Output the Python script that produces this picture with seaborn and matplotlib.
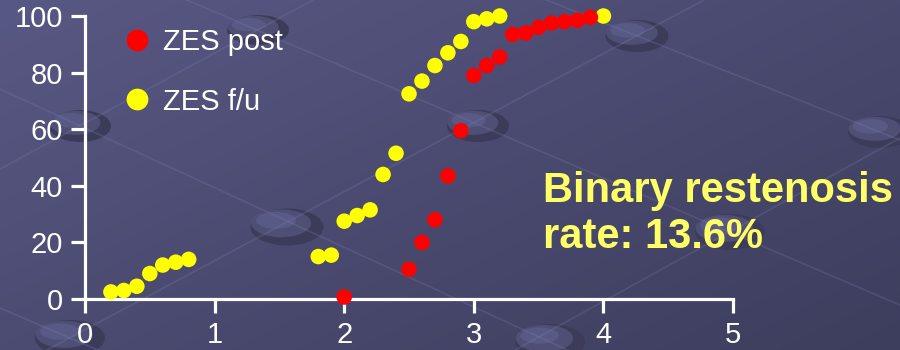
import numpy as np
import pandas as pd
import matplotlib
matplotlib.use("Agg")
import matplotlib.pyplot as plt
from matplotlib.patches import Ellipse
import seaborn as sns

# Cumulative distribution of late loss (mm) vs. percentage of lesions
post_x = [2.0, 2.5, 2.6, 2.7, 2.8, 2.9, 3.0, 3.1, 3.2, 3.3, 3.4, 3.5, 3.6, 3.7, 3.8, 3.9]
post_y = [0.7, 10.5, 20, 28, 43.5, 59.5, 79, 82.5, 85.5, 93.5, 94, 96, 97.5, 98, 98.5, 99.5]
fu_x = [0.2, 0.3, 0.4, 0.5, 0.6, 0.7, 0.8, 1.8, 1.9, 2.0, 2.1, 2.2, 2.3, 2.4,
        2.5, 2.6, 2.7, 2.8, 2.9, 3.0, 3.1, 3.2, 4.0]
fu_y = [2.5, 3, 4.5, 9, 12, 13, 14, 15, 15.5, 27.5, 29.5, 31.5, 44, 51.5,
        72.5, 77, 82.5, 87, 91, 98, 99, 100, 100]
series_names = ["ZES post", "ZES f/u"]
series_colors = ["#ff0000", "#ffff00"]
x_ticks = [0, 1, 2, 3, 4, 5]
y_ticks = [0, 20, 40, 60, 80, 100]
note_text = "Binary restenosis\nrate: 13.6%"

sns.set_theme(style="white")
plt.rcParams["font.family"] = ["Liberation Sans", "DejaVu Sans"]

W, H = 900, 350
fig = plt.figure(figsize=(W / 100, H / 100), dpi=100)

# ---- slide backdrop: gradient, faint lattice lines, shaded discs ----
bg = fig.add_axes([0, 0, 1, 1], zorder=-10)
gy, gx = np.mgrid[0:1:200j, 0:1:400j]
t = gx * 0.55 + gy * 0.45
c0 = np.array([0x58, 0x58, 0x84]) / 255
c1 = np.array([0x3d, 0x3d, 0x5d]) / 255
bg.imshow(c0 + (c1 - c0) * t[..., None], extent=[0, W, H, 0], aspect="auto")

lattice = [
    ((0, 89), (900, 503)),
    ((0, -80), (900, 305)),
    ((400, -58), (900, 140)),
    ((0, 308), (200, 394)),
    ((0, 169), (313, 0)),
    ((0, 375), (704, 0)),
    ((515, 350), (1000, 83)),
]
for (x0, y0), (x1, y1) in lattice:
    bg.plot([x0, x1], [y0, y1], color="#8080b0", alpha=0.25, lw=1.2)

discs = [(258, 30, 62, 30), (80, 126, 62, 32), (287, 227, 73, 37),
         (478, 126, 62, 32), (637, 36, 63, 32), (880, 132, 64, 32),
         (730, 232, 70, 36), (550, 342, 70, 36), (70, 338, 70, 36)]
for cx, cy, w, h in discs:
    bg.add_patch(Ellipse((cx, cy), w, h, facecolor="#3c3c5a", edgecolor="none"))
    bg.add_patch(Ellipse((cx - 0.08 * w, cy - 0.1 * h), 0.82 * w, 0.75 * h,
                         facecolor="#54547e", edgecolor="none", alpha=0.8))
    bg.add_patch(Ellipse((cx - 0.15 * w, cy - 0.18 * h), 0.55 * w, 0.45 * h,
                         facecolor="#5e5e8c", edgecolor="none", alpha=0.7))
bg.set_xlim(0, W)
bg.set_ylim(H, 0)
bg.axis("off")

# ---- main chart ----
ax = fig.add_axes([85 / W, 51 / H, 648 / W, 283 / H])
ax.patch.set_alpha(0)

df = pd.DataFrame({
    "x": fu_x + post_x,
    "y": fu_y + post_y,
    "series": [series_names[1]] * len(fu_x) + [series_names[0]] * len(post_x),
})
sns.scatterplot(data=df, x="x", y="y", hue="series", hue_order=series_names,
                palette=dict(zip(series_names, series_colors)), s=125,
                linewidth=0, ax=ax, clip_on=False, zorder=5)

ax.set_xlim(0, 5)
ax.set_ylim(0, 100)
ax.set_xticks(x_ticks)
ax.set_yticks(y_ticks)
ax.set_xlabel("")
ax.set_ylabel("")
ax.set_axisbelow(False)

handles, labels = ax.get_legend_handles_labels()
ax.legend(handles, labels, loc="upper left",
          bbox_to_anchor=(122 / W, 1 - 28 / H), bbox_transform=fig.transFigure,
          frameon=False, fontsize=21, labelcolor="white", markerscale=1.4,
          handlelength=1.0, handletextpad=0.4, labelspacing=1.08,
          borderpad=0, borderaxespad=0)

fig.text(543 / W, 1 - 248 / H, note_text, ha="left", va="baseline",
         fontsize=30, fontweight="bold", color="#ffff66", linespacing=1.2)

for side in ("top", "right"):
    ax.spines[side].set_visible(False)
for side in ("left", "bottom"):
    ax.spines[side].set_color("white")
    ax.spines[side].set_linewidth(2.3)
ax.tick_params(axis="both", bottom=True, left=True, colors="white",
               direction="out", length=10, width=2.3, labelsize=21, pad=6)

fig.canvas.draw()
for tk in ax.xaxis.get_major_ticks() + ax.yaxis.get_major_ticks():
    tk.tick1line.set_visible(True)
    tk.tick1line.set_color("white")
    tk.tick1line.set_markeredgecolor("white")
    tk.tick1line.set_markersize(10)
    tk.tick1line.set_markeredgewidth(2.3)

fig.savefig("out.png", dpi=100)
